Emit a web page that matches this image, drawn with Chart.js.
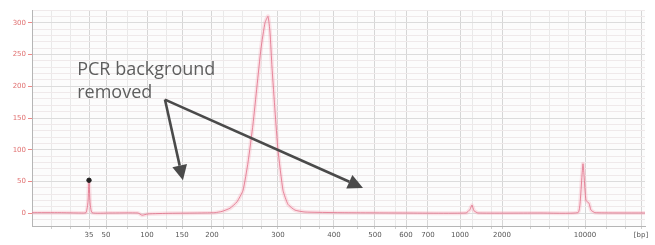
<!DOCTYPE html>
<html>
<head>
<meta charset="utf-8">
<script src="https://cdn.jsdelivr.net/npm/chart.js@4/dist/chart.umd.min.js"></script>
<style>
html,body{margin:0;padding:0;background:#ffffff;}
#wrap{position:relative;width:655px;height:245px;}
canvas{display:block;}
</style>
</head>
<body>
<div id="wrap"><canvas id="c" width="655" height="245"></canvas></div>
<script>
// Ladder: fragment sizes (bp) and their migration times (s)
const ladderLabels = ['35','50','100','150','200','300','400','500','600','700','1000','2000','10000','[bp]'];
const ladderTime   = [47.44,49.66,55.01,59.58,63.49,72.10,79.41,84.76,88.81,91.68,95.86,101.34,112.17,119.48];

// Electropherogram trace: migration time (s) and fluorescence (FU)
const traceTime  = [40.0,43.65,46.26,47.05,47.31,47.44,47.57,47.83,50.18,53.83,54.36,55.14,58.01,61.93,63.88,64.80,65.84,66.75,67.54,68.19,68.84,69.36,69.89,70.41,70.80,71.06,71.32,71.72,72.10,72.76,73.41,74.32,75.63,80.20,88.03,96.64,97.16,97.42,97.68,98.21,106.30,111.26,111.52,111.78,111.91,112.04,112.30,112.69,112.95,113.48,120.0];
const traceValue = [1,1,0.5,1,18,52,18,1,0.5,0.5,-3,-1,0,0.5,1,3,8,18,36,80,140,200,260,300,310,285,230,160,100,36,14,5,2,1,0.5,0.5,6,13,4,0.5,0.5,1,15,60,78,60,20,16,5,1,0.5];

// Lower marker annotation
const markerTime  = [47.44];
const markerValue = [52];

// Y tick labels
const yTicks = [0,50,100,150,200,250,300];

// Annotation
const noteLines = ['PCR background','removed'];

const tracePts  = traceTime.map((t,i)=>({x:t,y:traceValue[i]}));
const markerPts = markerTime.map((t,i)=>({x:t,y:markerValue[i]}));

const bgPlugin = {
  id:'bg',
  beforeDraw(chart){
    const {ctx, chartArea:a} = chart;
    ctx.save();
    ctx.fillStyle='#fcfcfc';
    ctx.fillRect(a.left,a.top,a.right-a.left,a.bottom-a.top);
    ctx.restore();
  }
};

function arrow(ctx,x1,y1,x2,y2){
  const ang=Math.atan2(y2-y1,x2-x1);
  const L=15, W=7.5;
  const bx=x2-L*Math.cos(ang), by=y2-L*Math.sin(ang);
  ctx.beginPath();
  ctx.moveTo(x1,y1); ctx.lineTo(bx,by); ctx.stroke();
  ctx.beginPath();
  ctx.moveTo(x2,y2);
  ctx.lineTo(bx+W*Math.sin(ang), by-W*Math.cos(ang));
  ctx.lineTo(bx-W*Math.sin(ang), by+W*Math.cos(ang));
  ctx.closePath(); ctx.fill();
}

const notePlugin = {
  id:'note',
  afterDraw(chart){
    const {ctx} = chart;
    const xs=chart.scales.x, ys=chart.scales.y;
    ctx.save();
    ctx.fillStyle='#5e5e5e';
    ctx.font='18px "Open Sans", Lato, sans-serif';
    ctx.textBaseline='alphabetic';
    ctx.fillText(noteLines[0], xs.getPixelForValue(45.9), ys.getPixelForValue(217));
    ctx.fillText(noteLines[1], xs.getPixelForValue(45.9), ys.getPixelForValue(182));
    ctx.strokeStyle='#4a4a4a'; ctx.fillStyle='#4a4a4a'; ctx.lineWidth=2.6; ctx.lineCap='butt';
    const sx=xs.getPixelForValue(57.35), sy=ys.getPixelForValue(179);
    arrow(ctx,sx,sy,xs.getPixelForValue(59.7),ys.getPixelForValue(52));
    arrow(ctx,sx,sy,xs.getPixelForValue(83.2),ys.getPixelForValue(40));
    ctx.restore();
  }
};

// minor vertical grid positions
const minorX = [];
for (let t=42.5; t<120; t+=2.5) minorX.push(t);

new Chart(document.getElementById('c'), {
  type:'line',
  data:{
    datasets:[
      {data:tracePts, borderColor:'rgba(245,175,190,0.35)', borderWidth:4, pointRadius:0, tension:0.15, order:3},
      {data:tracePts, borderColor:'rgba(225,110,135,0.8)', borderWidth:1, pointRadius:0, tension:0.15, order:2},
      {type:'scatter', data:markerPts, pointRadius:2.2, pointBackgroundColor:'#222', pointBorderColor:'#222', order:1}
    ]
  },
  options:{
    responsive:false, animation:false, devicePixelRatio:1,
    layout:{padding:{top:10,right:10,left:0,bottom:0}},
    plugins:{legend:{display:false}, tooltip:{enabled:false}},
    scales:{
      x:{
        type:'linear', min:40, max:120,
        afterBuildTicks(s){
          const vals = ladderTime.concat(minorX.filter(m=>ladderTime.every(l=>Math.abs(l-m)>1.2)));
          vals.sort((a,b)=>a-b);
          s.ticks = vals.map(v=>({value:v}));
        },
        afterFit(s){ s.height = 19; },
        ticks:{
          autoSkip:false, maxRotation:0, padding:2,
          font:{size:7, family:'"DejaVu Sans", sans-serif'}, color:'#555',
          callback(v){ const i=ladderTime.indexOf(v); return i>=0 ? ladderLabels[i] : ''; }
        },
        grid:{
          color(c){ return ladderTime.indexOf(c.tick && c.tick.value)>=0 ? '#d6d6d6' : '#e9e9e9'; },
          lineWidth:1, tickLength:3, drawTicks:true, tickColor:'#cfcfcf'
        },
        border:{display:true, color:'#b5b5b5', width:1}
      },
      y:{
        min:-20, max:320,
        afterBuildTicks(s){
          const vals=[]; for(let v=-20; v<=320; v+=10) vals.push(v);
          s.ticks = vals.map(v=>({value:v}));
        },
        afterFit(s){ s.width = 32; },
        ticks:{
          autoSkip:false, padding:2, font:{size:7, family:'"DejaVu Sans", sans-serif'}, color:'#e07070',
          callback(v){ return yTicks.indexOf(v)>=0 ? String(v) : ''; }
        },
        grid:{
          color(c){ const v=c.tick && c.tick.value; return yTicks.indexOf(v)>=0 ? '#dcdcdc' : '#efe9ea'; },
          lineWidth:1, tickLength:4,
          tickColor(c){ const v=c.tick && c.tick.value; return yTicks.indexOf(v)>=0 ? '#e88' : 'rgba(0,0,0,0)'; }
        },
        border:{display:true, color:'#b5b5b5', width:1}
      }
    }
  },
  plugins:[bgPlugin, notePlugin]
});
</script>
</body>
</html>
